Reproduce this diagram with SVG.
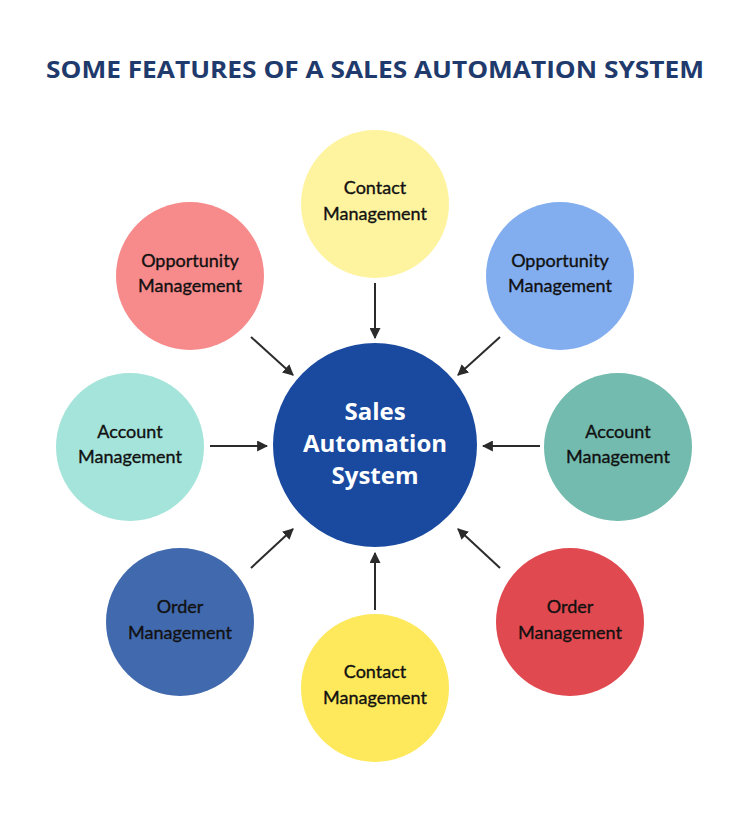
<svg xmlns="http://www.w3.org/2000/svg" width="750" height="820" viewBox="0 0 750 820">
<defs>
<marker id="ah" viewBox="0 0 10 10" refX="9" refY="5" markerWidth="5.5" markerHeight="5.5" orient="auto" markerUnits="strokeWidth">
<path d="M0,0 L10,5 L0,10 z" fill="#2b2b2b"/>
</marker>
</defs>
<style>
.t{font-family:Lato,"Open Sans",sans-serif;font-size:18px;fill:#111111;stroke:#111111;stroke-width:0.35px;text-anchor:middle}
.c{font-family:"Open Sans","Liberation Sans",sans-serif;font-weight:bold;font-size:24px;fill:#ffffff;text-anchor:middle}
.title{font-family:"Open Sans","Liberation Sans",sans-serif;font-weight:bold;font-size:23px;fill:#1f3a6c;text-anchor:middle}
.ar{stroke:#2b2b2b;stroke-width:2;fill:none;marker-end:url(#ah)}
</style>
<rect width="750" height="820" fill="#ffffff"/>
<text class="title" x="375" y="78" textLength="658" lengthAdjust="spacingAndGlyphs">SOME FEATURES OF A SALES AUTOMATION SYSTEM</text>
<g id="connectors">
<line class="ar" x1="375" y1="283" x2="375" y2="338"/>
<line class="ar" x1="251" y1="337" x2="293" y2="375"/>
<line class="ar" x1="500" y1="337" x2="458" y2="375"/>
<line class="ar" x1="210" y1="446" x2="267" y2="446"/>
<line class="ar" x1="540" y1="446" x2="483" y2="446"/>
<line class="ar" x1="251" y1="568" x2="293" y2="529"/>
<line class="ar" x1="500" y1="568" x2="458" y2="529"/>
<line class="ar" x1="375" y1="610" x2="375" y2="553"/>
</g>
<g id="center">
<circle cx="375" cy="445" r="102" fill="#1a4a9f"/>
<text class="c" x="375" y="420">Sales</text>
<text class="c" x="375" y="452">Automation</text>
<text class="c" x="375" y="484">System</text>
</g>
<g id="contact-top">
<circle cx="375" cy="204" r="74" fill="#fef4a0"/>
<text class="t" x="375" y="194">Contact</text>
<text class="t" x="375" y="220">Management</text>
</g>
<g id="opportunity-left">
<circle cx="190" cy="276" r="74" fill="#f78a8b"/>
<text class="t" x="190" y="267">Opportunity</text>
<text class="t" x="190" y="292">Management</text>
</g>
<g id="opportunity-right">
<circle cx="560" cy="276" r="74" fill="#82aef0"/>
<text class="t" x="560" y="267">Opportunity</text>
<text class="t" x="560" y="292">Management</text>
</g>
<g id="account-left">
<circle cx="130" cy="447" r="74" fill="#a4e4da"/>
<text class="t" x="130" y="438">Account</text>
<text class="t" x="130" y="463">Management</text>
</g>
<g id="account-right">
<circle cx="618" cy="447" r="74" fill="#72bbae"/>
<text class="t" x="618" y="438">Account</text>
<text class="t" x="618" y="463">Management</text>
</g>
<g id="order-left">
<circle cx="180" cy="622" r="74" fill="#4169ad"/>
<text class="t" x="180" y="613">Order</text>
<text class="t" x="180" y="639">Management</text>
</g>
<g id="order-right">
<circle cx="570" cy="622" r="74" fill="#e0494f"/>
<text class="t" x="570" y="613">Order</text>
<text class="t" x="570" y="639">Management</text>
</g>
<g id="contact-bottom">
<circle cx="375" cy="688" r="74" fill="#fde95b"/>
<text class="t" x="375" y="678">Contact</text>
<text class="t" x="375" y="704">Management</text>
</g>
</svg>
